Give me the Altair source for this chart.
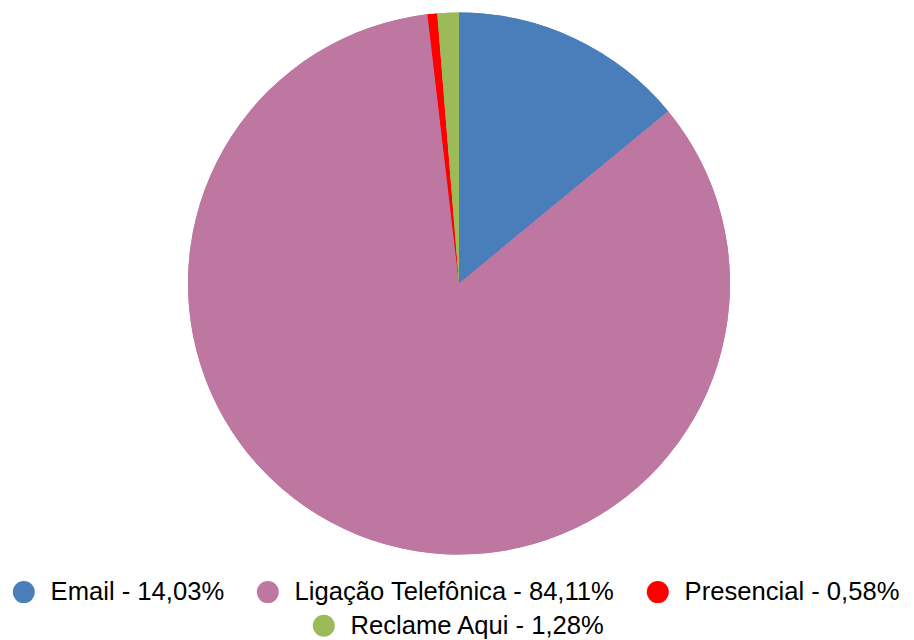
import altair as alt
import pandas as pd

categories = ["Email", "Ligação Telefônica", "Presencial", "Reclame Aqui"]
shares = [14.03, 84.11, 0.58, 1.28]
colors = ["#4a7ebb", "#be77a0", "#ff0000", "#9bbb59"]

labels = [f"{c} - {v:.2f}".replace(".", ",") + "%" for c, v in zip(categories, shares)]

df = pd.DataFrame({"label": labels, "share": shares, "order": list(range(len(labels)))})

font = "Liberation Sans"

def legend(values, x, y):
    return alt.Legend(
        title=None,
        orient="none",
        direction="horizontal",
        legendX=x,
        legendY=y,
        values=values,
        symbolType="circle",
        symbolSize=484,
        symbolStrokeWidth=0,
        symbolOpacity=1,
        labelFont=font,
        labelFontSize=25.6,
        labelColor="#000000",
        labelOffset=14,
        labelLimit=0,
        columnPadding=30,
        padding=0,
        offset=0,
    )

scale = alt.Scale(domain=labels, range=colors)

base = alt.Chart(df)

pie = base.mark_arc(radius=271, stroke=None).encode(
    theta=alt.Theta("share:Q", stack=True),
    order=alt.Order("order:Q"),
    color=alt.Color("label:N", scale=scale, legend=legend(labels[:3], 7, 579)),
)

pie2 = base.mark_arc(radius=271, stroke=None).encode(
    theta=alt.Theta("share:Q", stack=True),
    order=alt.Order("order:Q"),
    color=alt.Color("label2:N", scale=alt.Scale(domain=labels, range=colors),
                    legend=legend(labels[3:], 307, 613)),
).transform_calculate(label2="datum.label")

chart = (
    alt.layer(pie, pie2)
    .resolve_scale(color="independent")
    .properties(
        width=910,
        height=567,
        autosize=alt.AutoSizeParams(type="none"),
        padding={"left": 4, "top": 0, "right": 0, "bottom": 73},
    )
    .configure_view(stroke=None)
    .configure(background="white")
)

chart.save("out.html", embed_options={"renderer": "svg", "actions": False})
